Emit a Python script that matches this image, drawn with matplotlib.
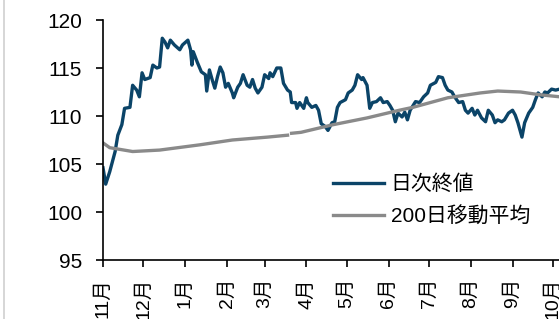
import matplotlib.pyplot as plt
from matplotlib.lines import Line2D
import pandas as pd
import numpy as np

plt.rcParams['font.family'] = ['Liberation Sans', 'Noto Sans CJK JP']

start = pd.Timestamp('2018-11-01')

# 日次終値 : days since Nov 1, value
close_days = [0, 2, 5, 9, 11, 14, 16, 20, 22, 25, 27, 29, 31, 35, 37, 40, 42, 44, 46, 48,
              50, 53, 57, 59, 63, 65, 66, 67, 70, 73, 76, 77, 79, 81, 83, 85, 87, 89, 91, 93,
              96, 97, 100, 102, 104, 107, 109, 111, 113, 115, 118, 120, 123, 124, 126, 129, 132, 134, 137, 139,
              140, 143, 144, 146, 149, 151, 152, 155, 158, 160, 162, 165, 167, 170, 172, 174, 176, 180, 182, 185,
              187, 189, 192, 193, 196, 198, 200, 203, 206, 208, 211, 213, 215, 217, 219, 222, 224, 226, 228, 232,
              235, 238, 241, 243, 247, 249, 252, 254, 256, 259, 261, 264, 267, 269, 271, 274, 276, 278, 281, 284,
              286, 289, 291, 293, 296, 298, 301, 304, 306, 308, 311, 313, 316, 319, 321, 323, 326, 328, 330, 333,
              336, 339]
close_vals = [104.6, 102.9, 104.2, 106.3, 108.0, 109.1, 110.8, 110.9, 113.2, 112.7, 112.0, 114.5, 113.8, 114.0, 115.3, 115.0, 115.1, 118.1, 117.7, 117.1,
              117.9, 117.4, 116.9, 117.4, 117.9, 116.9, 115.3, 116.7, 115.6, 114.6, 114.3, 112.6, 114.8, 113.8, 112.9, 114.1, 115.1, 114.5, 113.0, 113.4,
              112.4, 111.9, 113.0, 113.4, 114.3, 113.2, 113.0, 113.8, 112.9, 112.4, 113.0, 114.3, 113.9, 114.5, 114.1, 115.0, 115.0, 113.4, 112.7, 112.5,
              111.4, 111.4, 110.8, 111.4, 110.8, 111.9, 111.4, 110.9, 111.1, 110.6, 109.2, 108.9, 108.5, 109.3, 109.4, 110.9, 111.4, 111.7, 112.4, 112.7,
              113.2, 114.3, 113.8, 114.0, 113.2, 110.8, 111.4, 111.5, 111.9, 111.4, 111.5, 111.1, 110.6, 109.4, 110.3, 109.9, 110.4, 109.6, 110.6, 111.5,
              111.4, 112.0, 112.4, 113.2, 113.5, 114.1, 114.0, 113.2, 112.7, 112.5, 112.0, 111.4, 111.5, 110.6, 110.3, 110.8, 110.1, 110.6, 109.8, 109.4,
              110.6, 110.1, 109.3, 109.6, 109.4, 109.6, 110.3, 110.6, 110.1, 109.3, 107.8, 109.3, 110.3, 110.9, 111.7, 112.4, 112.0, 112.5, 112.4, 112.8,
              112.7, 112.8]

# 200日移動平均 (one missing day around mid-March)
ma_days = [0, 5, 22, 42, 72, 96, 122, 137, 138, 140, 147, 171, 196, 205, 220, 230, 256, 280, 293, 310, 325, 339]
ma_vals = [107.2, 106.7, 106.3, 106.45, 107.0, 107.5, 107.8, 108.0, np.nan, 108.2, 108.3, 109.1, 109.8, 110.1, 110.6, 110.9, 111.9, 112.4, 112.6, 112.5, 112.2, 112.0]

months = pd.date_range(start, periods=12, freq='MS')
month_labels = [f'{m.month}月' for m in months]

close_x = start + pd.to_timedelta(close_days, unit='D')
ma_x = start + pd.to_timedelta(ma_days, unit='D')

fig = plt.figure(figsize=(5.59, 3.19), dpi=100)
ax = fig.add_axes([103/559, 59/319, 456/559, 240/319])

ax.plot(close_x, close_vals, color='#0b4468', lw=2.4, label='日次終値', solid_joinstyle='round')
ax.plot(ma_x, ma_vals, color='#8a8a8a', lw=2.4, label='200日移動平均')

ax.set_ylim(95, 120)
ax.set_yticks(np.arange(95, 121, 5))
ax.set_xlim(start, start + pd.Timedelta(days=338.5))
ax.set_xticks(months)
ax.set_xticklabels(month_labels, rotation=90)

for s in ['top', 'right']:
    ax.spines[s].set_visible(False)
for s in ['left', 'bottom']:
    ax.spines[s].set_linewidth(1.2)
ax.tick_params(axis='y', direction='out', length=5, width=1.2, labelsize=15, pad=10)
ax.tick_params(axis='x', direction='out', length=5, width=1.2, labelsize=14, pad=8)

ax.legend(loc='upper left', bbox_to_anchor=(0.463, 0.433), frameon=False, fontsize=15,
          handlelength=2.45, handletextpad=0.33, labelspacing=0.55)

fig.add_artist(Line2D([4/559, 4/559], [0, 1], color='#cfcfcf', lw=1.2))

fig.savefig('out.png', dpi=100)
